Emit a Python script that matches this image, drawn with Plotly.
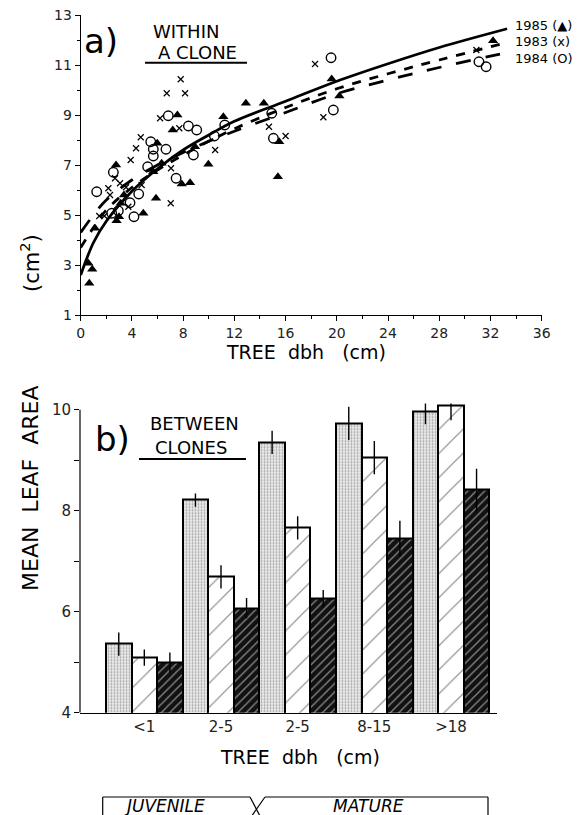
import plotly.graph_objects as go

# page is 582x815; the html body adds an 8px margin, so the figure is drawn 8px in
W, H = 582, 815
OFF = 8
FW, FH = W - OFF, H - OFF

# ---------------- Panel a data (within a clone) ----------------
tri_x = [0.6, 0.67, 0.9, 1.12, 2.76, 2.8, 2.99, 3.12, 3.38, 4.89, 5.67, 5.88, 5.98, 6.32, 7.19,
         7.55, 7.89, 8.54, 8.93, 9.97, 11.14, 12.9, 14.3, 15.4, 15.5, 19.6, 20.2, 31.9, 32.2]
tri_y = [3.07, 2.27, 2.83, 4.47, 7.0, 4.77, 4.93, 5.47, 5.8, 5.07, 6.73, 5.67, 7.87, 7.07, 8.4,
         9.0, 6.24, 6.29, 7.73, 7.03, 8.93, 9.47, 9.47, 6.53, 7.93, 10.44, 9.76, 13.04, 11.97]

crs_x = [1.45, 1.85, 2.16, 2.29, 2.68, 3.07, 3.54, 3.72, 3.9, 4.32, 4.69, 4.76, 6.2, 6.72, 7.03,
         7.05, 7.7, 7.81, 8.15, 10.5, 14.7, 16.0, 18.3, 18.95, 30.9]
crs_y = [4.96, 4.96, 6.07, 5.8, 6.47, 6.27, 6.11, 5.33, 7.2, 7.67, 8.11, 6.2, 8.87, 9.87, 5.47,
         6.87, 8.47, 10.43, 9.87, 7.6, 8.53, 8.16, 11.04, 8.91, 11.6]

cir_x = [1.25, 2.42, 2.55, 2.94, 3.85, 4.16, 4.53, 5.23, 5.47, 5.67, 5.67, 6.66, 6.84, 7.45, 8.41,
         8.8, 9.06, 10.44, 11.25, 14.92, 15.05, 19.55, 19.73, 31.1, 31.66]
cir_y = [5.93, 5.07, 6.71, 5.17, 5.49, 4.93, 5.84, 6.93, 7.93, 7.63, 7.36, 7.63, 8.97, 6.47, 8.56,
         7.4, 8.4, 8.16, 8.6, 9.07, 8.07, 11.29, 9.2, 11.13, 10.93]

# fitted curves
curve_x = [0, 1, 2, 4, 6, 8, 10, 12, 16, 20, 24, 28, 33.3]
fit_1985 = [2.6, 3.9, 4.75, 5.95, 6.85, 7.6, 8.2, 8.75, 9.55, 10.35, 11.05, 11.7, 12.45]
fit_1983 = [3.7, 4.5, 5.2, 6.1, 6.8, 7.4, 7.95, 8.45, 9.3, 10.05, 10.65, 11.2, 11.9]
fit_1984 = [4.3, 5.0, 5.6, 6.4, 7.0, 7.5, 7.95, 8.35, 9.1, 9.85, 10.4, 10.9, 11.5]

# ---------------- Panel b data (between clones) ----------------
cat_labels = ["<1", "2-5", "2-5", "8-15", ">18"]
cat_pos = [0, 1, 2, 3, 4]
val_1985 = [5.36, 8.21, 9.35, 9.73, 9.96]
err_1985 = [0.23, 0.13, 0.23, 0.33, 0.25]
val_1983 = [5.09, 6.69, 7.66, 9.05, 10.09]
err_1983 = [0.16, 0.23, 0.23, 0.33, 0.30]
val_1984 = [4.99, 6.07, 6.26, 7.45, 8.41]
err_1984 = [0.20, 0.20, 0.17, 0.35, 0.42]

FONT = "DejaVu Sans"


def px(x):
    return (x - OFF) / FW


def py(y):
    return 1 - (y - OFF) / FH


fig = go.Figure()

line_w = 2.8
fig.add_trace(go.Scatter(x=curve_x, y=fit_1985, mode="lines", line=dict(color="black", width=line_w, shape="spline"),
                         xaxis="x", yaxis="y", showlegend=False))
fig.add_trace(go.Scatter(x=curve_x, y=fit_1983, mode="lines", line=dict(color="black", width=line_w, dash="dash", shape="spline"),
                         xaxis="x", yaxis="y", showlegend=False))
fig.add_trace(go.Scatter(x=curve_x, y=fit_1984, mode="lines", line=dict(color="black", width=line_w, dash="longdash", shape="spline"),
                         xaxis="x", yaxis="y", showlegend=False))

fig.add_trace(go.Scatter(x=tri_x, y=tri_y, mode="markers", cliponaxis=False,
                         marker=dict(symbol="triangle-up", size=9, color="black"),
                         xaxis="x", yaxis="y", showlegend=False))
fig.add_trace(go.Scatter(x=crs_x, y=crs_y, mode="markers", cliponaxis=False,
                         marker=dict(symbol="x-thin-open", size=6, color="black", line=dict(width=1.2, color="black")),
                         xaxis="x", yaxis="y", showlegend=False))
fig.add_trace(go.Scatter(x=cir_x, y=cir_y, mode="markers", cliponaxis=False,
                         marker=dict(symbol="circle-open", size=9.5, color="black", line=dict(width=1.4, color="black")),
                         xaxis="x", yaxis="y", showlegend=False))

err_style = dict(type="data", thickness=1.4, width=0, color="black")
fig.add_trace(go.Bar(x=cat_pos, y=val_1985, error_y=dict(array=err_1985, **err_style),
                     marker=dict(color="#e0e0e0", line=dict(color="black", width=2),
                                 pattern=dict(shape=".", size=3, solidity=0.3, fgcolor="#555555", bgcolor="#ebebeb")),
                     xaxis="x2", yaxis="y2", showlegend=False))
fig.add_trace(go.Bar(x=cat_pos, y=val_1983, error_y=dict(array=err_1983, **err_style),
                     marker=dict(color="white", line=dict(color="black", width=2),
                                 pattern=dict(shape="/", size=17, solidity=0.06, fgcolor="black", bgcolor="white")),
                     xaxis="x2", yaxis="y2", showlegend=False))
fig.add_trace(go.Bar(x=cat_pos, y=val_1984, error_y=dict(array=err_1984, **err_style),
                     marker=dict(color="black", line=dict(color="black", width=2),
                                 pattern=dict(shape="/", size=6, solidity=0.22, fgcolor="white", bgcolor="#111111")),
                     xaxis="x2", yaxis="y2", showlegend=False))

axis_common = dict(showline=True, linecolor="black", linewidth=1.2, showgrid=False, zeroline=False,
                   ticks="outside", ticklen=5, tickwidth=1.1, tickcolor="black",
                   ticklabeloverflow="allow",
                   tickfont=dict(family=FONT, size=14, color="#222"))

fig.update_layout(
    width=FW, height=FH,
    margin=dict(l=0, r=0, t=0, b=0, autoexpand=False),
    paper_bgcolor="white", plot_bgcolor="white",
    font=dict(family=FONT, color="black"),
    barmode="group", bargap=0, bargroupgap=0,
    xaxis=dict(domain=[px(80.7), px(541.7)], range=[0, 36], anchor="y", tick0=0, dtick=4,
               minor=dict(dtick=2, ticks="outside", ticklen=3, tickcolor="black"), **axis_common),
    yaxis=dict(domain=[py(315), py(15)], range=[1, 13], anchor="x", tick0=1, dtick=2,
               minor=dict(dtick=1, ticks="outside", ticklen=3, tickcolor="black"), **axis_common),
    xaxis2=dict(domain=[px(80), px(497)], range=[-0.839, 4.6], anchor="y2",
                tickvals=cat_pos, ticktext=cat_labels,
                **{**axis_common, "ticks": "", "tickfont": dict(family=FONT, size=15, color="#222")}),
    yaxis2=dict(domain=[py(712.7), py(403.6)], range=[4, 10.12], anchor="x2",
                tickvals=[4, 6, 8, 10],
                minor=dict(tick0=4, dtick=1, ticks="outside", ticklen=5, tickcolor="black"),
                **{**axis_common, "showline": False, "tickfont": dict(family=FONT, size=15, color="#222")}),
)

ann = []


def text(x, y, s, size, xanchor="center", yanchor="middle", angle=0, italic=False):
    ann.append(dict(x=px(x), y=py(y), xref="paper", yref="paper", text=s, showarrow=False,
                    xanchor=xanchor, yanchor=yanchor, textangle=angle,
                    font=dict(family=FONT, size=size, color="black",
                              style="italic" if italic else "normal")))


text(101, 41, "a)", 34)
text(186, 31, "WITHIN", 18)
text(197, 53, "A CLONE", 18)
text(513, 25, "1985 (▲)", 13, xanchor="left")
text(513, 42, "1983 (x)", 13, xanchor="left")
text(513, 58, "1984 (O)", 13, xanchor="left")
text(306, 352, "TREE  dbh   (cm)", 19)

text(112, 439, "b)", 34)
text(194, 424, "BETWEEN", 18)
text(191, 447, "CLONES", 18)
text(300, 757, "TREE  dbh   (cm)", 19)

text(30, 488, "MEAN  LEAF  AREA", 22, angle=-90)
text(30, 263, "(cm<sup>2</sup>)", 21, angle=-90)

text(165, 806, "JUVENILE", 17, italic=True)
text(368, 806, "MATURE", 17, italic=True)

fig.update_layout(annotations=ann)

shapes = []


def seg(x0, y0, x1, y1, w=1.5):
    shapes.append(dict(type="line", xref="paper", yref="paper", x0=px(x0), y0=py(y0), x1=px(x1), y1=py(y1),
                       line=dict(color="black", width=w)))


seg(145, 62.7, 247, 62.7, 2)
seg(139, 459, 246, 459, 2)
# bottom box
seg(102.7, 797, 250, 797, 1.2)
seg(102.7, 797, 102.7, 816, 1.2)
seg(250, 797, 260, 816, 1.2)
seg(265, 797, 251.7, 816, 1.2)
seg(265, 797, 488, 797, 1.2)
seg(488, 797, 488, 816, 1.2)
# panel b y-axis line up to 10
shapes.append(dict(type="line", xref="x2 domain", yref="y2", x0=0, x1=0, y0=4, y1=10,
                   line=dict(color="black", width=1.2)))

fig.update_layout(shapes=shapes)

fig.write_html("out.html")
